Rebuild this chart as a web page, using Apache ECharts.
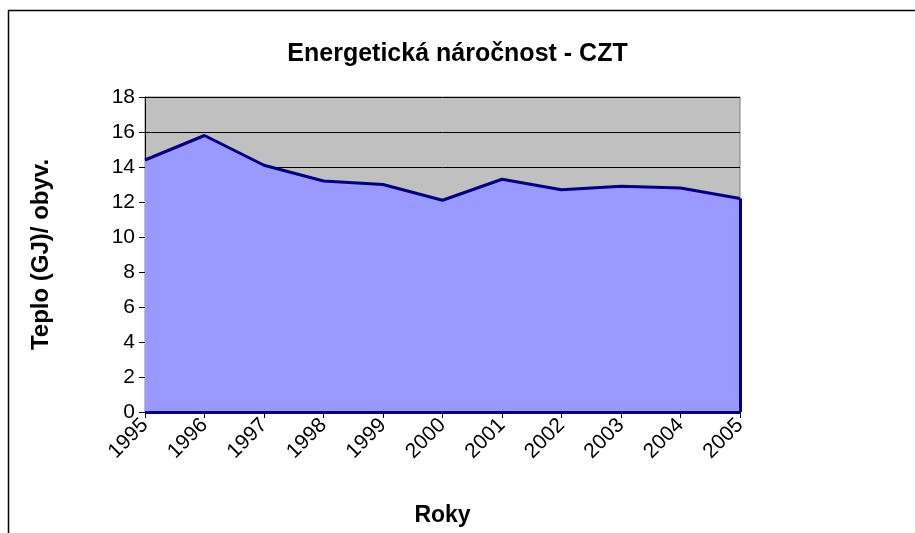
<!DOCTYPE html>
<html>
<head>
<meta charset="utf-8">
<script src="https://cdn.jsdelivr.net/npm/echarts@6/dist/echarts.min.js"></script>
<style>
html,body{margin:0;padding:0;background:#fff;}
#c{width:915px;height:533px;}
</style>
</head>
<body>
<div id="c"></div>
<script>
var years = ['1995','1996','1997','1998','1999','2000','2001','2002','2003','2004','2005'];
var heat = [14.4, 15.8, 14.1, 13.2, 13.0, 12.1, 13.3, 12.7, 12.9, 12.8, 12.2];
var titleText = 'Energetická náročnost - CZT';
var yName = 'Teplo (GJ)/ obyv.';
var xName = 'Roky';

var chart = echarts.init(document.getElementById('c'), null, {renderer:'canvas'});
var font = 'Liberation Sans, Arial, sans-serif';
chart.setOption({
  animation: false,
  backgroundColor: '#ffffff',
  title: {
    text: titleText, left: 'center', top: 37,
    textStyle: {fontFamily: font, fontWeight: 'bold', fontSize: 25, color: '#000'}
  },
  graphic: [
    {type:'line', shape:{x1:8, y1:10.5, x2:915, y2:10.5}, style:{stroke:'#000', lineWidth:1.5}},
    {type:'line', shape:{x1:8.5, y1:10, x2:8.5, y2:533}, style:{stroke:'#000', lineWidth:1.5}}
  ],
  grid: {
    left: 145, right: 175, top: 97, bottom: 121,
    show: true, backgroundColor: '#c0c0c0', borderColor: '#808080', borderWidth: 1
  },
  xAxis: {
    type: 'category', data: years, boundaryGap: false,
    name: xName, nameLocation: 'middle', nameGap: 92,
    nameTextStyle: {fontFamily: font, fontWeight: 'bold', fontSize: 23, color: '#000'},
    axisLine: {show: true, lineStyle: {color: '#000', width: 1}},
    axisTick: {show: true, length: 6, lineStyle: {color: '#000'}},
    axisLabel: {rotate: 45, fontFamily: font, fontSize: 21, color: '#000', margin: 10, interval: 0},
    splitLine: {show: false}
  },
  yAxis: {
    type: 'value', min: 0, max: 18, interval: 2,
    name: yName, nameLocation: 'middle', nameGap: 92,
    nameTextStyle: {fontFamily: font, fontWeight: 'bold', fontSize: 24, color: '#000'},
    axisLine: {show: true, lineStyle: {color: '#000', width: 1}},
    axisTick: {show: true, length: 6, lineStyle: {color: '#000'}},
    axisLabel: {fontFamily: font, fontSize: 21, color: '#000', margin: 10},
    splitLine: {show: true, lineStyle: {color: '#000', width: 1}}
  },
  series: [{
    type: 'line', data: heat, symbol: 'none', z: 2,
    lineStyle: {color: '#000080', width: 3},
    areaStyle: {color: '#9999ff', opacity: 1},
    markLine: {
      silent: true, symbol: 'none', label: {show: false},
      lineStyle: {color: '#000080', width: 3, type: 'solid'},
      data: [
        [{coord: [years[years.length-1], 0]}, {coord: [years[years.length-1], heat[heat.length-1]]}],
        [{coord: [years[0], 0]}, {coord: [years[years.length-1], 0]}]
      ]
    }
  }]
});
</script>
</body>
</html>
